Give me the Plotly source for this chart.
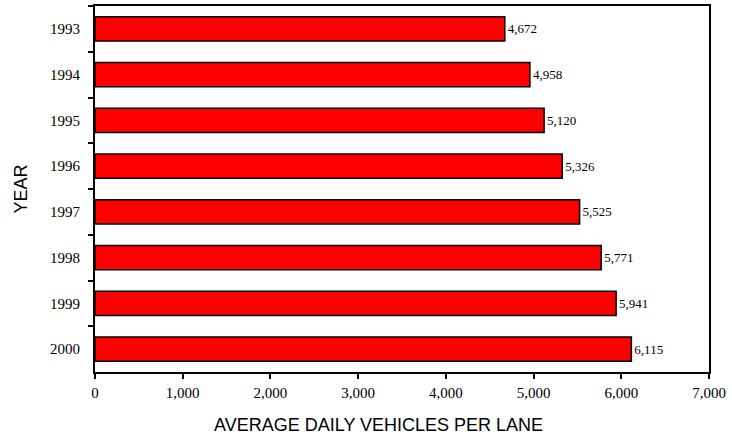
import plotly.graph_objects as go

years = ["1993", "1994", "1995", "1996", "1997", "1998", "1999", "2000"]
vehicles = [4672, 4958, 5120, 5326, 5525, 5771, 5941, 6115]
x_ticks = [0, 1000, 2000, 3000, 4000, 5000, 6000, 7000]
x_labels = ["0", "1,000", "2,000", "3,000", "4,000", "5,000", "6,000", "7,000"]

fig = go.Figure(go.Bar(
    y=years, x=vehicles, orientation="h",
    marker=dict(color="#ff0000", line=dict(color="black", width=1.5)),
    width=0.53,
    text=[f"{v:,}" for v in vehicles], textposition="outside",
    textfont=dict(family="Liberation Serif", size=13, color="black"),
    cliponaxis=False,
))

fig.update_layout(
    width=732, height=438,
    margin=dict(l=95, r=23, t=6, b=66),
    plot_bgcolor="white", paper_bgcolor="white",
    showlegend=False,
    xaxis=dict(
        range=[0, 7000], tickvals=x_ticks, ticktext=x_labels,
        automargin=False,
        ticks="outside", ticklen=5, tickwidth=2, tickcolor="black",
        showline=True, linecolor="black", linewidth=2, mirror=True,
        showgrid=False, zeroline=False,
        tickfont=dict(family="Liberation Serif", size=15, color="black"),
        ticklabelstandoff=1,
    ),
    yaxis=dict(
        type="category", autorange="reversed",
        categoryorder="array", categoryarray=years,
        automargin=False,
        tickson="boundaries",
        ticks="outside", ticklen=5, tickwidth=2, tickcolor="black",
        showline=True, linecolor="black", linewidth=2, mirror=True,
        showgrid=False,
        tickfont=dict(family="Liberation Serif", size=15, color="black"),
        ticklabelstandoff=10,
        title=dict(text="YEAR",
                   font=dict(family="Liberation Sans", size=18, color="black"),
                   standoff=18),
    ),
    annotations=[dict(
        text="AVERAGE DAILY VEHICLES PER LANE",
        xref="paper", yref="paper", x=0.4625, y=-0.145,
        xanchor="center", yanchor="middle", showarrow=False,
        font=dict(family="Liberation Sans", size=18, color="black"),
    )],
)

fig.write_html("out.html", config={"displayModeBar": False},
               post_script="document.body.style.margin='0';document.body.style.overflow='hidden';")
